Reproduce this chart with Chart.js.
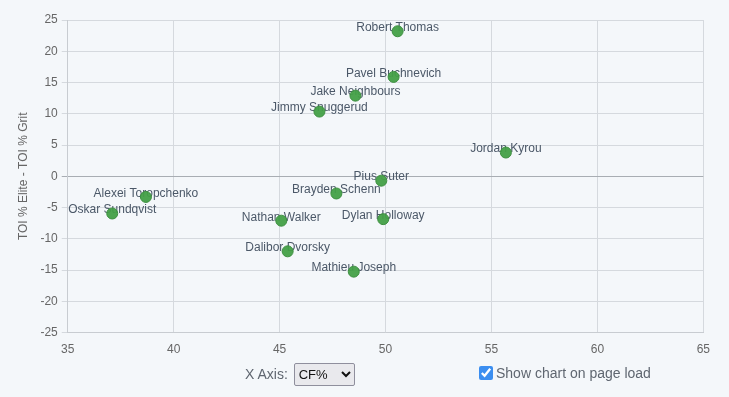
<!DOCTYPE html>
<html>
<head>
<meta charset="utf-8">
<script src="https://cdn.jsdelivr.net/npm/chart.js@4"></script>
<style>
  html, body { margin: 0; padding: 0; background: #f4f7fa; }
  body { width: 729px; height: 397px; overflow: hidden; position: relative; font-family: "Liberation Sans", Arial, sans-serif; }
  #wrap { position: absolute; left: 0; top: 0; width: 720px; height: 367px; }
  #controls { position: absolute; top: 363px; left: 0; width: 729px; height: 26px; font-size: 14px; color: #5f6670; }
  #xsel { position: absolute; left: 245px; top: 0; }
  #xsel select { font-size: 13px; font-family: "Liberation Sans", Arial, sans-serif; width: 61px; height: 23px; margin-left: 2px; background: #e9e9ed; color: #111; border: 1px solid #8f8f9d; border-radius: 2px; }
  #chk { position: absolute; left: 478px; top: 2px; }
  #chk input { margin: 0 3px 0 1px; width: 14px; height: 14px; vertical-align: -2px; accent-color: #3b8ef0; }
</style>
</head>
<body>
<div id="wrap"><canvas id="c"></canvas></div>
<div id="controls">
  <label id="xsel">X Axis: <select><option>CF%</option></select></label>
  <label id="chk"><input type="checkbox" checked>Show chart on page load</label>
</div>
<script>
const players = ['Robert Thomas','Pavel Buchnevich','Jake Neighbours','Jimmy Snuggerud','Jordan Kyrou','Pius Suter','Brayden Schenn','Alexei Toropchenko','Oskar Sundqvist','Nathan Walker','Dylan Holloway','Dalibor Dvorsky','Mathieu Joseph'];
const cfPct = [50.57, 50.38, 48.58, 46.88, 55.68, 49.8, 47.68, 38.69, 37.1, 45.08, 49.89, 45.38, 48.5];
const toiDiff = [23.2, 15.9, 12.9, 10.35, 3.8, -0.7, -2.75, -3.3, -5.95, -7.1, -6.85, -12.0, -15.25];
const xTicks = [35, 40, 45, 50, 55, 60, 65];
const yTicks = [25, 20, 15, 10, 5, 0, -5, -10, -15, -20, -25];

const pts = cfPct.map((x, i) => ({x: x, y: toiDiff[i], name: players[i]}));

// labels under the points
const nameLabels = {
  id: 'nameLabels',
  beforeDatasetsDraw(chart) {
    const ctx = chart.ctx;
    const meta = chart.getDatasetMeta(0);
    ctx.save();
    ctx.font = '12px "Liberation Sans", Arial, sans-serif';
    ctx.fillStyle = '#4b5868';
    ctx.textAlign = 'center';
    ctx.textBaseline = 'middle';
    meta.data.forEach((el, i) => {
      ctx.fillText(players[i], el.x, el.y - 3.5);
    });
    ctx.restore();
  }
};

new Chart(document.getElementById('c'), {
  type: 'scatter',
  data: {
    datasets: [{
      data: pts,
      backgroundColor: 'rgba(67,160,71,0.95)',
      borderColor: '#3d8f40',
      borderWidth: 1,
      pointRadius: 5.5,
      pointHoverRadius: 6
    }]
  },
  options: {
    responsive: true,
    maintainAspectRatio: false,
    animation: false,
    layout: { padding: { top: 20, right: 0, left: 16 } },
    plugins: { legend: { display: false }, tooltip: { enabled: false } },
    scales: {
      x: {
        type: 'linear', min: 35, max: 65,
        afterBuildTicks: (s) => { s.ticks = xTicks.map(v => ({value: v})); },
        grid: { color: '#d5d9de', tickLength: 0 },
        border: { color: '#c8ccd1' },
        ticks: { color: '#666', font: { size: 12 }, padding: 10 }
      },
      y: {
        type: 'linear', min: -25, max: 25,
        afterBuildTicks: (s) => { s.ticks = yTicks.map(v => ({value: v})); },
        grid: {
          color: (c) => c.tick && c.tick.value === 0 ? '#a8adb3' : '#d5d9de',
          tickLength: 6
        },
        border: { color: '#c8ccd1' },
        ticks: { color: '#666', font: { size: 12 }, padding: 4 },
        title: { display: true, text: 'TOI % Elite - TOI % Grit', color: '#666', font: { size: 12 }, padding: { top: 0, bottom: 6 } }
      }
    }
  },
  plugins: [nameLabels]
});
</script>
</body>
</html>
